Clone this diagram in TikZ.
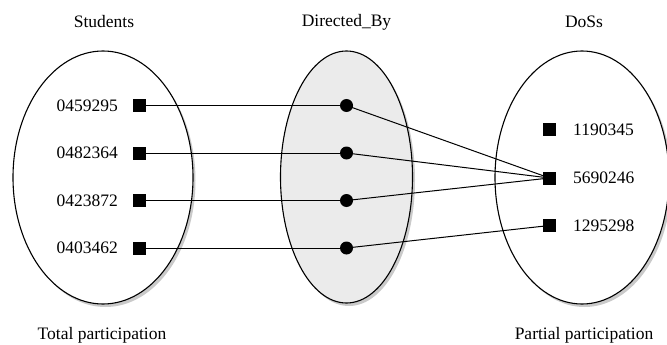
\documentclass[tikz,border=0pt]{standalone}
\usepackage{fontspec}
\setmainfont{Liberation Serif}
\usetikzlibrary{shadows}
\definecolor{relfill}{HTML}{EBEBEB}
\tikzset{
  x=1pt, y=-1pt,
  every node/.style={font=\fontsize{17.5}{20}\selectfont, inner sep=0pt},
  setshape/.style={draw, line width=1.1pt, fill=white,
    drop shadow={shadow xshift=2.5pt, shadow yshift=-3pt, opacity=0.35, fill=black!60}},
  entity/.style={fill=black, minimum size=13pt, draw=none},
  reldot/.style={circle, fill=black, minimum size=13pt},
  link/.style={line width=1pt},
}
\begin{document}
\begin{tikzpicture}
\useasboundingbox (0,0) rectangle (667,345);
\begin{scope}
\clip (0,0) rectangle (667,345);
% the three sets
\path[setshape] (103,177.5) ellipse [x radius=90, y radius=126.5];
\path[setshape, fill=relfill] (346.5,177) ellipse [x radius=66, y radius=126];
\path[setshape] (582,177.5) ellipse [x radius=87, y radius=126.5];
\end{scope}

% titles
\node (tS) at (104,22) {Students};
\node (tR) at (346.5,22) {Directed\_By};
\node (tD) at (584,22) {DoSs};
\node (pS) at (102,335) {Total participation};
\node (pD) at (584,335) {Partial participation};

% students
\foreach \i/\y/\t in {1/105.5/0459295, 2/153/0482364, 3/200.5/0423872, 4/248/0403462}{
  \node[entity] (s\i) at (139.5,\y) {};
  \node[anchor=east] (ls\i) at (118,\y) {\t};
  \node[reldot] (r\i) at (346.5,\y) {};
}

% directors
\node[entity] (d1) at (549.5,129.5) {};
\node[entity] (d2) at (549.5,178) {};
\node[entity] (d3) at (549.5,225.5) {};
\node[anchor=west] (ld1) at (573,129.5) {1190345};
\node[anchor=west] (ld2) at (573,178) {5690246};
\node[anchor=west] (ld3) at (573,225.5) {1295298};

% relationship links
\foreach \i in {1,...,4}{ \draw[link] (s\i.center) -- (r\i.center); }
\draw[link] (r1.center) -- (d2.center);
\draw[link] (r2.center) -- (d2.center);
\draw[link] (r3.center) -- (d2.center);
\draw[link] (r4.center) -- (d3.center);
\end{tikzpicture}
\end{document}
